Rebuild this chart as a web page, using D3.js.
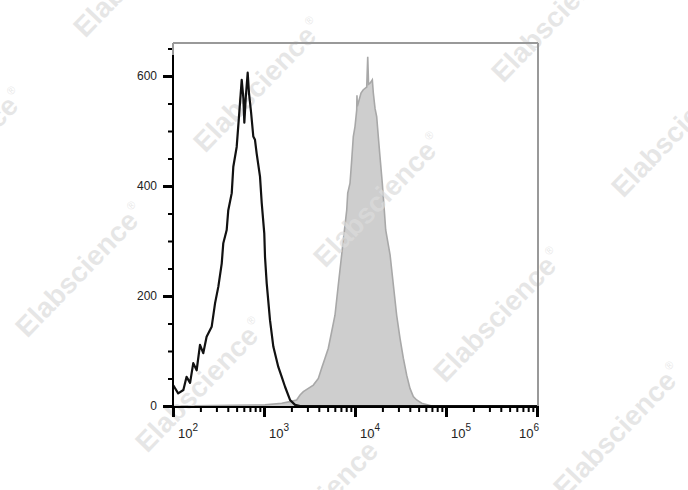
<!DOCTYPE html>
<html><head><meta charset="utf-8">
<script src="https://cdn.jsdelivr.net/npm/d3@7"></script>
<style>html,body{margin:0;padding:0;background:#fff;}svg{display:block;}</style>
</head><body>
<svg id="c" width="688" height="490"></svg>
<script>
// ---- data (fluorescence value, event count) ----
const controlValues = [100,103,114,130,141,154,167,182,198,215,234,266,290,315,343,357,389,405,442,460,501,531,569,593,608,630,662,684,720,763,796,831,904,944,1007,1026,1071,1164,1266,1436,1566,1703,1932,2193,2489,4000,1e6];
const controlCounts = [38,35,23,29,53,42,78,65,111,96,126,144,187,217,259,296,320,356,387,435,471,526,593,560,515,560,606,569,535,490,484,459,417,369,314,271,223,156,108,71,53,35,11,2,0,0,0];
const stainedValues = [100,1026,1566,1932,2285,2489,2706,3071,3485,3955,4305,4680,5091,5540,6026,6552,7138,7762,8110,8318,8815,9200,9580,10000,10440,10510,10620,11640,12330,13450,13800,14100,14630,15500,15900,16600,17310,18030,18830,19950,20990,21740,24290,26400,28700,31240,33980,36980,40200,43740,47640,54080,63800,70000,1e6];
const stainedCounts = [0,2,5,8,11,20,26,32,38,50,69,87,105,135,165,220,275,329,356,387,405,447,490,508,538,565,545,569,575,580,635,585,587,593,569,541,526,490,453,405,356,320,275,220,165,123,87,56,32,17,11,5,2,0,0];
const xTickValues = [1e2,1e3,1e4,1e5,1e6];
const xTickExponents = ["2","3","4","5","6"];
const yTickValues = [0,200,400,600];
const yMinorValues = [50,100,150,250,300,350,450,500,550,650];
const watermarkText = "Elabscience";

// ---- layout ----
const L = 173, R = 538, T = 43, B = 406;
const svg = d3.select("#c");
const x = d3.scaleLog().domain([1e2,1e6]).range([L,537]);
const y = d3.scaleLinear().domain([0,660]).range([B,T]);

const stained = stainedValues.map((v,i)=>[v,stainedCounts[i]]);
const control = controlValues.map((v,i)=>[v,controlCounts[i]]);

// stained filled histogram
svg.append("path").datum(stained)
  .attr("d", d3.area().x(d=>x(d[0])).y0(y(0)).y1(d=>y(d[1])))
  .attr("fill","#cecece");
svg.append("path").datum(stained)
  .attr("d", d3.line().x(d=>x(d[0])).y(d=>y(d[1])))
  .attr("fill","none").attr("stroke","#a8a8a8").attr("stroke-width",1.6);

// watermark lattice
const wm = svg.append("g");
const base=[258,85], u=[120,115], v=[178,-185];
for (let j=-1;j<=1;j++) for (let i=-2;i<=4;i++){
  const cx = base[0]+i*u[0]+j*v[0], cy = base[1]+i*u[1]+j*v[1];
  if (cx<-150||cx>840||cy<-150||cy>640) continue;
  const t = wm.append("text").attr("transform",`translate(${cx},${cy}) rotate(-46)`)
    .attr("text-anchor","middle").attr("dy","0.35em")
    .attr("font-family","Liberation Sans, Arial, sans-serif").attr("font-weight","bold")
    .attr("font-size",28).attr("fill","#dcdcdc").attr("fill-opacity",0.7);
  t.append("tspan").text(watermarkText);
  t.append("tspan").text("\u00AE").attr("font-size",11).attr("font-weight","normal").attr("dy",-14).attr("dx",2);
}

// control open histogram
svg.append("path").datum(control)
  .attr("d", d3.line().x(d=>x(d[0])).y(d=>y(d[1])))
  .attr("fill","none").attr("stroke","#111").attr("stroke-width",2.2).attr("stroke-linejoin","round");

// frame (top/right gray)
svg.append("line").attr("x1",L).attr("x2",R).attr("y1",T).attr("y2",T).attr("stroke","#999").attr("stroke-width",2);
svg.append("line").attr("x1",R).attr("x2",R).attr("y1",T).attr("y2",B+1).attr("stroke","#999").attr("stroke-width",2);

// x axis
const xAxisG = svg.append("g").attr("transform",`translate(0,${B+1})`);
const minor = [];
for (let d=2; d<6; d++) for (let k=2;k<=9;k++) minor.push(k*Math.pow(10,d));
xAxisG.append("g").call(d3.axisBottom(x).tickValues(minor).tickSize(5).tickFormat(""))
  .call(g=>{g.select(".domain").remove(); g.selectAll("line").attr("stroke","#000").attr("stroke-width",2);});
xAxisG.append("g").call(d3.axisBottom(x).tickValues(xTickValues).tickSize(10).tickFormat(""))
  .call(g=>{g.select(".domain").remove(); g.selectAll("line").attr("stroke","#000").attr("stroke-width",3);});
xAxisG.append("line").attr("x1",L-1).attr("x2",R+1).attr("stroke","#000").attr("stroke-width",2);

xTickValues.forEach((val,i)=>{
  const last = i===xTickValues.length-1;
  const t = svg.append("text").attr("y",438)
    .attr("font-family","Liberation Sans, Arial, sans-serif").attr("font-size",13).attr("fill","#222")
    .attr("x", last ? R+1 : x(val)+5).attr("text-anchor", last ? "end" : "start");
  t.append("tspan").text("10");
  t.append("tspan").text(xTickExponents[i]).attr("font-size",10).attr("dy",-7);
});

// y axis
const yAxisG = svg.append("g").attr("transform",`translate(${L},0)`);
yAxisG.append("g").call(d3.axisLeft(y).tickValues(yMinorValues).tickSize(5).tickFormat(""))
  .call(g=>{g.select(".domain").remove(); g.selectAll("line").attr("stroke","#000").attr("stroke-width",2);});
yAxisG.append("g").call(d3.axisLeft(y).tickValues(yTickValues).tickSize(10).tickPadding(6))
  .call(g=>{g.select(".domain").remove(); g.selectAll("line").attr("stroke","#000").attr("stroke-width",3);
    g.selectAll("text").attr("font-family","Liberation Sans, Arial, sans-serif").attr("font-size",12).attr("fill","#222");});
yAxisG.append("line").attr("y1",T+12).attr("y2",B+2).attr("stroke","#000").attr("stroke-width",2);
svg.append("line").attr("x1",L).attr("x2",L).attr("y1",T).attr("y2",T+12).attr("stroke","#999").attr("stroke-width",2);
</script>
</body></html>
